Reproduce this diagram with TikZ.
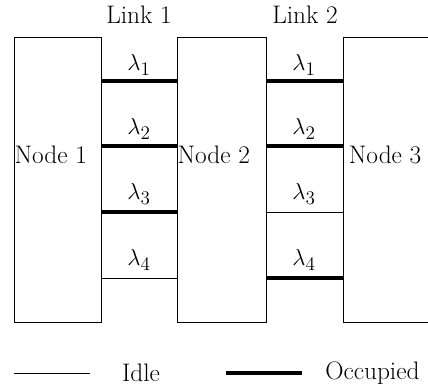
\documentclass[tikz,border=0pt]{standalone}
\begin{document}
\begin{tikzpicture}[
  x=0.75pt, y=-0.75pt,
  font=\fontsize{19}{22}\selectfont,
  box/.style={draw, line width=0.6pt, minimum height=213.75pt, inner sep=0pt},
  idle/.style={line width=0.7pt},
  occupied/.style={line width=2.4pt},
  lam/.style={inner sep=0pt}
]
\useasboundingbox (0,0) rectangle (428,391);
% nodes
\node[box, minimum width=65.25pt] (node1) at (57.5,179.5) {};
\node[box, minimum width=66.75pt] (node2) at (221.5,179.5) {};
\coordinate (n3top) at (428,37);
\coordinate (n3bot) at (428,322);
\draw[line width=0.6pt] (n3top) -| (343,322) -- (n3bot);
\coordinate (node3) at (343,179.5);
\node[anchor=west, inner sep=0.5pt] (lbl1) at (node1.west |- 0,155) {Node 1};
\node[anchor=west, inner sep=0.5pt] (lbl2) at (node2.west |- 0,155) {Node 2};
\node[anchor=west, inner sep=0.5pt] (lbl3) at (348,155) {Node 3};
\node (link1) at (139,15) {Link 1};
\node (link2) at (305,15) {Link 2};
% wavelengths, link 1
\draw[occupied] (node1.east |- 0,81) -- (node2.west |- 0,81);
\draw[occupied] (node1.east |- 0,146) -- (node2.west |- 0,146);
\draw[occupied] (node1.east |- 0,212) -- (node2.west |- 0,212);
\draw[idle] (node1.east |- 0,278) -- (node2.west |- 0,278);
% wavelengths, link 2
\draw[occupied] (node2.east |- 0,81) -- (node3 |- 0,81);
\draw[occupied] (node2.east |- 0,146) -- (node3 |- 0,146);
\draw[idle] (node2.east |- 0,212) -- (node3 |- 0,212);
\draw[occupied] (node2.east |- 0,278) -- (node3 |- 0,278);
\foreach \i/\y in {1/65,2/129,3/194,4/260}{
  \node[lam] (l1w\i) at (139,\y) {$\lambda_{\i}$};
  \node[lam] (l2w\i) at (304,\y) {$\lambda_{\i}$};
}
% legend
\coordinate (idleA) at (14,373);
\coordinate (idleB) at (90,373);
\coordinate (occA) at (226,373);
\coordinate (occB) at (302,373);
\draw[idle] (idleA) -- (idleB);
\draw[occupied] (occA) -- (occB);
\node (idletxt) at (141,373) {Idle};
\node[anchor=west, inner sep=0pt] (occtxt) at (325,373) {Occupied};
\end{tikzpicture}
\end{document}
